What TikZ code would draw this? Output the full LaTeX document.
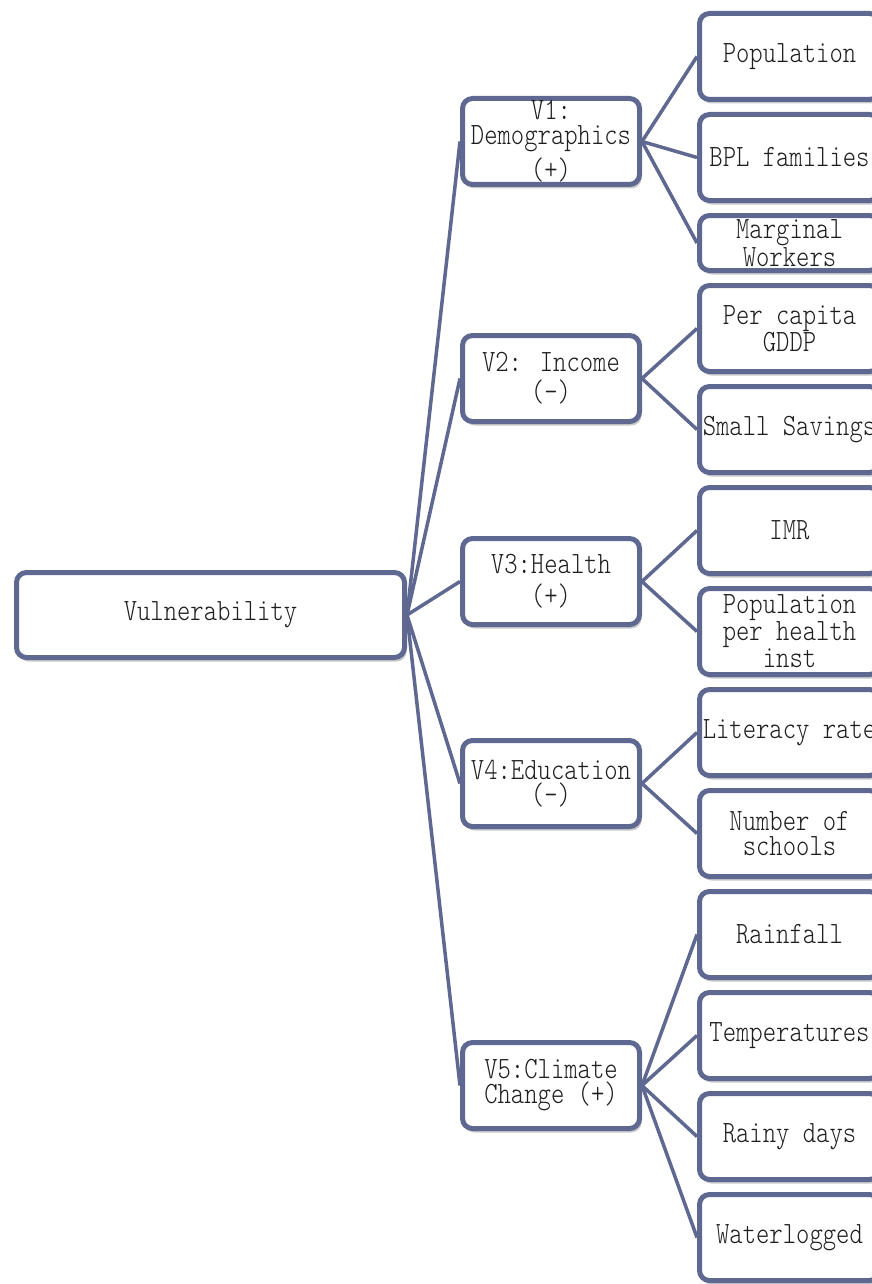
\documentclass[tikz,border=0pt]{standalone}
\usepackage{fontspec}
\newfontfamily\boxfont{lmmonolt10-regular.otf}[FakeStretch=0.82]
\usetikzlibrary{shadows,backgrounds}
\definecolor{bord}{HTML}{5E6890}
\definecolor{txt}{HTML}{1E1E1E}
\tikzset{
  box/.style={draw=bord, line width=5pt, rounded corners=10pt, fill=white,
    inner sep=0pt, align=center, text=txt,
    font=\boxfont\fontsize{31}{25}\selectfont,
    drop shadow={shadow xshift=2pt, shadow yshift=-4pt, opacity=0.3, fill=black!70}},
  rootbox/.style={box, minimum width=388pt, minimum height=85pt},
  vbox/.style={box, minimum width=177pt, minimum height=86pt},
  leafbox/.style={box, minimum width=180pt, minimum height=86pt},
  link/.style={draw=bord, line width=3.5pt}
}
\begin{document}
\begin{tikzpicture}[x=1pt,y=-1pt]
\useasboundingbox (0,0) rectangle (872,1284);
\clip (0,0) rectangle (872,1284);
\node[rootbox] (root) at (210.5,615) {Vulnerability};
\node[vbox] (v1) at (551,141.5) {V1:\\Demographics\\[5pt](+)};
\node[vbox] (v2) at (551,378.5) {V2: Income\\[5pt](-)};
\node[vbox] (v3) at (551,581.5) {V3:Health\\[7pt](+)};
\node[vbox] (v4) at (551,783.5) {V4:Education\\(-)};
\node[vbox] (v5) at (551,1085.5) {V5:Climate\\Change (+)};
\node[leafbox] (l1) at (789.5,56.5) {Population};
\node[leafbox] (l2) at (789.5,157.5) {BPL families};
\node[leafbox, minimum height=55pt] (l3) at (789.5,243) {Marginal\\Workers};
\node[leafbox] (l4) at (789.5,328.5) {Per capita\\GDDP};
\node[leafbox] (l5) at (789.5,429.5) {Small Savings};
\node[leafbox] (l6) at (789.5,530.5) {IMR};
\node[leafbox] (l7) at (789.5,631.5) {Population\\per health\\inst};
\node[leafbox] (l8) at (789.5,732.5) {Literacy rate};
\node[leafbox] (l9) at (789.5,833.5) {Number of\\schools};
\node[leafbox] (l10) at (789.5,934.5) {Rainfall};
\node[leafbox] (l11) at (789.5,1035.5) {Temperatures};
\node[leafbox] (l12) at (789.5,1136.5) {Rainy days};
\node[leafbox] (l13) at (789.5,1237.5) {Waterlogged};
\begin{pgfonlayer}{background}
\foreach \v in {v1,v2,v3,v4,v5} \draw[link] (root.east) -- (\v.west);
\foreach \l in {l1,l2,l3} \draw[link] (v1.east) -- (\l.west);
\foreach \l in {l4,l5} \draw[link] (v2.east) -- (\l.west);
\foreach \l in {l6,l7} \draw[link] (v3.east) -- (\l.west);
\foreach \l in {l8,l9} \draw[link] (v4.east) -- (\l.west);
\foreach \l in {l10,l11,l12,l13} \draw[link] (v5.east) -- (\l.west);
\end{pgfonlayer}
\end{tikzpicture}
\end{document}
